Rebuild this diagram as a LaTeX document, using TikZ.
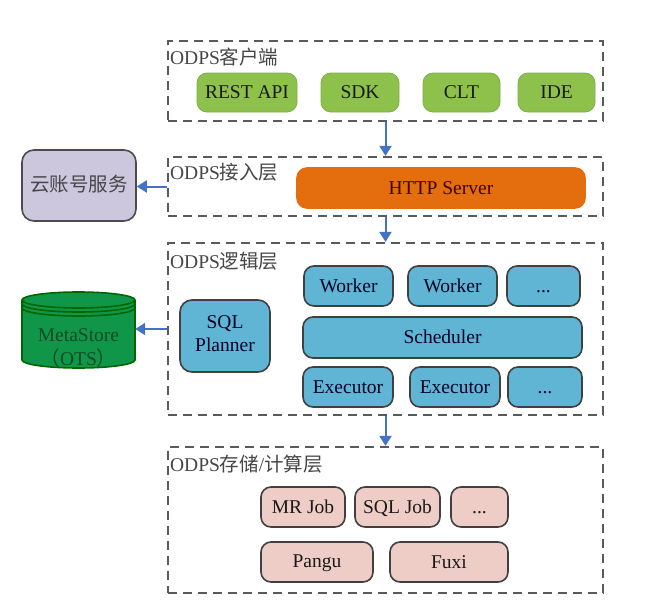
\documentclass[tikz,border=0pt]{standalone}
\usepackage{fontspec}
\setmainfont{Liberation Serif}
\newfontfamily\cjk{Noto Sans CJK SC}
\usetikzlibrary{arrows.meta}
\definecolor{layergray}{RGB}{90,90,90}
\definecolor{labelgray}{RGB}{70,70,70}
\definecolor{clientgreen}{RGB}{141,193,75}
\definecolor{httporange}{RGB}{228,110,14}
\definecolor{acctlilac}{RGB}{205,199,222}
\definecolor{logicblue}{RGB}{96,180,212}
\definecolor{storepink}{RGB}{238,205,198}
\definecolor{metagreen}{RGB}{16,150,72}
\definecolor{metatext}{RGB}{18,75,36}
\definecolor{flowblue}{RGB}{68,114,196}
\newcommand\boxstrut{\rule[-4pt]{0pt}{20pt}}

\begin{document}
\begin{tikzpicture}[x=1pt, y=-1pt, font=\fontsize{19.5}{23}\selectfont,
    layer/.style={draw=layergray, line width=2.2pt, dash pattern=on 9pt off 6pt, inner sep=0pt},
    layerlabel/.style={anchor=west, text=labelgray, inner sep=0pt},
    box/.style={rounded corners=10pt, inner sep=0pt, draw=black!75, line width=1.6pt, execute at begin node=\boxstrut},
    clientbox/.style={box, fill=clientgreen, draw=clientgreen!90!black, line width=0.8pt, minimum height=39pt, text=black!90},
    logicbox/.style={box, fill=logicblue, minimum height=40pt, text=black!85!blue},
    storebox/.style={box, fill=storepink, minimum height=40pt, text=black!90},
    flow/.style={-{Triangle[length=10pt,width=12pt]}, draw=flowblue, line width=2pt}]
    \useasboundingbox (0,0) rectangle (666,602);

    \node[layer, minimum width=435pt, minimum height=80pt] (client) at (385.5,81) {};
    \node[layerlabel] at ([xshift=3pt,yshift=-17pt]client.north west) {ODPS{\cjk 客户端}};
    \node[clientbox, minimum width=100pt] (rest) at (247,92.5) {REST API};
    \node[clientbox, minimum width=78pt] (sdk) at (360,92.5) {SDK};
    \node[clientbox, minimum width=77pt] (clt) at (461.5,92.5) {CLT};
    \node[clientbox, minimum width=77pt] (ide) at (556.5,92.5) {IDE};

    \node[layer, minimum width=435pt, minimum height=59pt] (access) at (385.5,186.5) {};
    \node[layerlabel] at ([xshift=3pt,yshift=-16pt]access.north west) {ODPS{\cjk 接入层}};
    \node[box, fill=httporange, draw=httporange, minimum width=288pt, minimum height=40pt, text=black!75!red] (http) at (441,188) {HTTP Server};
    \node[box, rounded corners=12pt, fill=acctlilac, draw=black!70, minimum width=114pt, minimum height=71pt, text=labelgray] (account) at (79,185.5) {\cjk 云账号服务};

    \node[layer, minimum width=435pt, minimum height=172pt] (logic) at (385.5,329) {};
    \node[layerlabel] at ([xshift=3pt,yshift=-19pt]logic.north west) {ODPS{\cjk 逻辑层}};
    \node[logicbox, align=center, minimum width=90pt, minimum height=72pt, rounded corners=12pt] (planner) at (225,336) {SQL\\Planner};
    \node[logicbox, minimum width=89pt] (worker1) at (348.5,286) {Worker};
    \node[logicbox, minimum width=89pt] (worker2) at (452.5,286) {Worker};
    \node[logicbox, minimum width=73pt] (wdots) at (543.5,286) {...};
    \node[logicbox, minimum width=279pt, minimum height=41pt] (sched) at (442.5,337.5) {Scheduler};
    \node[logicbox, minimum width=90pt] (exec1) at (348,387) {Executor};
    \node[logicbox, minimum width=90pt] (exec2) at (455,387) {Executor};
    \node[logicbox, minimum width=74pt] (edots) at (545,387) {...};

    \filldraw[fill=metagreen, draw=black!60!green, line width=1.6pt] (22,300) -- (22,360) arc[start angle=180, end angle=0, x radius=56.5, y radius=8] -- (135,300) arc[start angle=0, end angle=-180, x radius=56.5, y radius=8] -- cycle;
    \draw[black!60!green, line width=1.6pt] (22,300) arc[start angle=180, end angle=0, x radius=56.5, y radius=8];
    \draw[black!60!green, line width=1.6pt] (22,304) arc[start angle=180, end angle=0, x radius=56.5, y radius=8];
    \draw[black!60!green, line width=1.6pt] (22,308) arc[start angle=180, end angle=0, x radius=56.5, y radius=8];
    \node[minimum width=113pt, align=center, text=metatext] (meta) at (78.5,348) {MetaStore\\[1pt]{\cjk （}OTS{\cjk ）}};

    \node[layer, minimum width=435pt, minimum height=146pt] (storage) at (385.5,520) {};
    \node[layerlabel] at ([xshift=3pt,yshift=-18pt]storage.north west) {ODPS{\cjk 存储}/{\cjk 计算层}};
    \node[storebox, minimum width=84pt] (mrjob) at (303,507) {MR Job};
    \node[storebox, minimum width=85pt] (sqljob) at (397.5,507) {SQL Job};
    \node[storebox, minimum width=57pt] (jdots) at (479.5,507) {...};
    \node[storebox, minimum width=112pt] (pangu) at (317,562) {Pangu};
    \node[storebox, minimum width=118pt] (fuxi) at (449,562) {Fuxi};

    \draw[flow] (client.south) -- (access.north);
    \draw[flow] (access.south) -- (logic.north);
    \draw[flow] (logic.south) -- (storage.north);
    \draw[flow] (access.west) -- (access.west -| account.east);
    \draw[flow] (logic.west) -- (logic.west -| meta.east);
\end{tikzpicture}
\end{document}
